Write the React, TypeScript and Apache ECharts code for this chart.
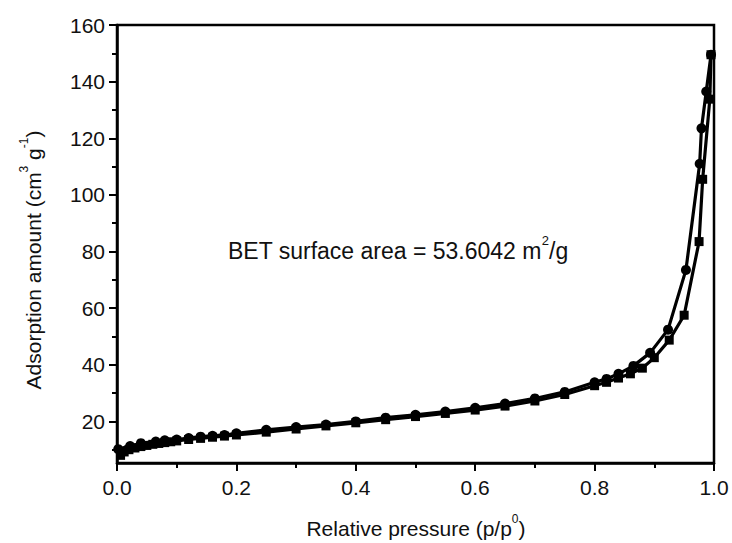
import React, { useEffect, useRef } from "react";
import * as echarts from "echarts";

// Adsorption branch (squares)
const adsPressure = [0.006, 0.012, 0.02, 0.03, 0.04, 0.05, 0.06, 0.07, 0.08, 0.09, 0.10, 0.12, 0.14, 0.16, 0.18, 0.20, 0.25, 0.30, 0.35, 0.40, 0.45, 0.50, 0.55, 0.60, 0.65, 0.70, 0.75, 0.80, 0.82, 0.84, 0.86, 0.88, 0.90, 0.925, 0.95, 0.975, 0.981, 0.993, 0.995];
const adsAmount = [8.0, 9.2, 10.0, 10.6, 11.1, 11.5, 11.9, 12.2, 12.5, 12.8, 13.1, 13.6, 14.0, 14.4, 14.8, 15.2, 16.2, 17.3, 18.4, 19.5, 20.6, 21.7, 22.8, 24.0, 25.4, 27.2, 29.5, 32.6, 33.8, 35.3, 36.8, 38.8, 42.5, 48.7, 57.5, 83.5, 105.5, 133.8, 149.5];

// Desorption branch (circles)
const desPressure = [0.995, 0.987, 0.979, 0.976, 0.953, 0.923, 0.893, 0.865, 0.84, 0.82, 0.80, 0.75, 0.70, 0.65, 0.60, 0.55, 0.50, 0.45, 0.40, 0.35, 0.30, 0.25, 0.20, 0.18, 0.16, 0.14, 0.12, 0.10, 0.08, 0.065, 0.04, 0.022, 0.002];
const desAmount = [149.5, 136.5, 123.5, 111.0, 73.5, 52.4, 44.2, 39.6, 36.8, 35.0, 33.8, 30.4, 28.1, 26.3, 24.8, 23.5, 22.3, 21.3, 20.0, 18.9, 18.0, 17.0, 15.8, 15.2, 14.9, 14.6, 14.1, 13.6, 13.3, 12.9, 12.3, 11.3, 10.2];

const yMajorTicks = [20, 40, 60, 80, 100, 120, 140, 160];
const yMinorTicks = [10, 30, 50, 70, 90, 110, 130, 150];

const FONT = "'Liberation Sans', Arial, sans-serif";

export default function App() {
  const ref = useRef<HTMLDivElement>(null);
  useEffect(() => {
    const chart = echarts.init(ref.current!, null, { renderer: "svg" });
    const yBase = {
      type: "value",
      min: 5.3,
      max: 160,
      position: "left",
      offset: 0,
      splitLine: { show: false },
    };
    chart.setOption({
      animation: false,
      backgroundColor: "#ffffff",
      grid: {
        left: 117,
        right: 18,
        top: 25,
        bottom: 80,
        show: true,
        borderColor: "#000",
        borderWidth: 2.5,
        backgroundColor: "transparent",
      },
      xAxis: {
        type: "value",
        min: 0,
        max: 1,
        interval: 0.2,
        axisLine: { lineStyle: { color: "#000", width: 2.5 } },
        axisTick: { length: 8, lineStyle: { color: "#000", width: 2 } },
        minorTick: { show: true, splitNumber: 2, length: 5, lineStyle: { color: "#000", width: 2 } },
        axisLabel: {
          margin: 14,
          fontSize: 21,
          color: "#111",
          fontFamily: FONT,
          formatter: (v: number) => v.toFixed(1),
        },
        splitLine: { show: false },
        minorSplitLine: { show: false },
      },
      yAxis: [
        {
          ...yBase,
          axisLine: { show: true, lineStyle: { color: "#000", width: 2.5 } },
          axisTick: { show: true, customValues: yMajorTicks, length: 8, lineStyle: { color: "#000", width: 2 } },
          axisLabel: {
            customValues: yMajorTicks,
            margin: 12,
            fontSize: 21,
            color: "#111",
            fontFamily: FONT,
          },
        },
        {
          ...yBase,
          axisLine: { show: false },
          axisTick: { show: true, customValues: yMinorTicks, length: 5, lineStyle: { color: "#000", width: 2 } },
          axisLabel: { show: false },
        },
      ],
      series: [
        {
          name: "Desorption",
          type: "line",
          yAxisIndex: 0,
          data: desPressure.map((p, i) => [p, desAmount[i]]),
          symbol: "circle",
          symbolSize: 10,
          showAllSymbol: true,
          lineStyle: { color: "#000", width: 3.2 },
          itemStyle: { color: "#000" },
        },
        {
          name: "Adsorption",
          type: "line",
          yAxisIndex: 0,
          data: adsPressure.map((p, i) => [p, adsAmount[i]]),
          symbol: "rect",
          symbolSize: 9,
          showAllSymbol: true,
          lineStyle: { color: "#000", width: 3.2 },
          itemStyle: { color: "#000" },
        },
      ],
      graphic: [
        {
          type: "text",
          x: 228,
          y: 251,
          style: {
            text: "BET surface area = 53.6042 m{sup|2}/g",
            fontSize: 23,
            lineHeight: 34,
            fontFamily: FONT,
            fill: "#111",
            align: "left",
            verticalAlign: "middle",
            rich: {
              sup: { fontSize: 13, lineHeight: 14, fontFamily: FONT, verticalAlign: "top", fill: "#111" },
            },
          },
        },
        {
          type: "text",
          x: 416,
          y: 528,
          style: {
            text: "Relative pressure (p/p{sup|0})",
            fontSize: 21,
            lineHeight: 31,
            fontFamily: FONT,
            fill: "#111",
            align: "center",
            verticalAlign: "middle",
            rich: {
              sup: { fontSize: 12, lineHeight: 13, fontFamily: FONT, verticalAlign: "top", fill: "#111" },
            },
          },
        },
        {
          type: "text",
          x: 33,
          y: 260,
          rotation: Math.PI / 2,
          style: {
            text: "Adsorption amount (cm{sup|3} g{sup|-1})",
            fontSize: 21,
            lineHeight: 31,
            fontFamily: FONT,
            fill: "#111",
            align: "center",
            verticalAlign: "middle",
            rich: {
              sup: { fontSize: 12, lineHeight: 13, fontFamily: FONT, verticalAlign: "top", fill: "#111" },
            },
          },
        },
      ],
    });
    return () => chart.dispose();
  }, []);
  return (
    <div
      ref={ref}
      style={{ position: "fixed", left: 0, top: 0, width: 732, height: 543 }}
    />
  );
}
